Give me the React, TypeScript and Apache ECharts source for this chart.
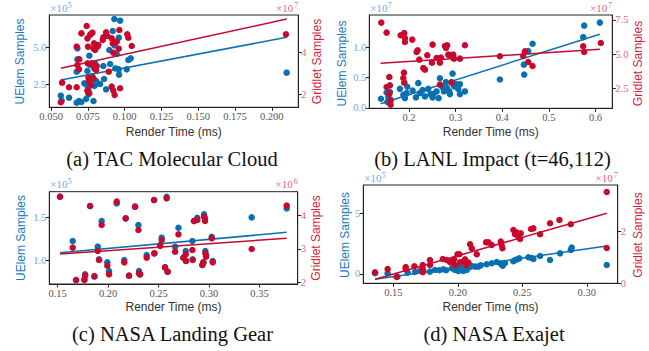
import React, { useEffect, useRef } from "react";
import * as echarts from "echarts";

// ---------- (a) TAC Molecular Cloud : UElem ×1e5, Gridlet ×1e7 ----------
const tacUElem = [[0.0566,1.705],[0.0572,1.365],[0.0622,1.569],[0.0674,1.228],[0.069,1.342],[0.0706,1.274],[0.0679,4.93],[0.0674,3.34],[0.0679,4.18],[0.0738,1.478],[0.0742,2.432],[0.0747,3.386],[0.0754,2.091],[0.076,4.43],[0.0765,3.794],[0.0769,2.772],[0.0778,3.045],[0.0788,1.342],[0.0794,2.364],[0.0806,2.704],[0.0817,2.545],[0.0833,2.5],[0.0799,3.908],[0.0855,3.726],[0.086,2.84],[0.0874,2.137],[0.0901,3.862],[0.0896,4.816],[0.0919,6.11],[0.093,6.93],[0.0932,5.134],[0.0937,3.567],[0.0946,4.544],[0.096,5.656],[0.0969,6.814],[0.096,3.499],[0.0962,3.136],[0.1014,3.499],[0.1025,4.135],[0.1041,4.248],[0.2101,3.272],[0.0726,2.545],[0.0754,1.796]];
const tacGridlet = [[0.0566,1.619],[0.0575,2.556],[0.0622,2.333],[0.0674,2.333],[0.0674,4.27],[0.0679,3.397],[0.069,3.19],[0.0692,3.667],[0.0706,4.905],[0.0742,5.254],[0.0747,4.667],[0.0751,4.27],[0.0749,3.476],[0.0754,2.794],[0.0758,2.603],[0.076,2.048],[0.0765,4.825],[0.0769,4.873],[0.0776,3.476],[0.0781,4.937],[0.0788,4.19],[0.0792,4.429],[0.0794,3.238],[0.0799,4.111],[0.0806,3.159],[0.081,3.349],[0.0815,4.27],[0.0821,4.349],[0.0851,4.587],[0.0855,4.714],[0.0874,4.952],[0.0883,4.778],[0.0892,3.079],[0.0912,4.667],[0.0919,4.429],[0.0923,3.984],[0.0912,2.365],[0.0923,2.175],[0.0932,1.968],[0.0946,4.508],[0.096,4.175],[0.0964,5.063],[0.0969,2.286],[0.1018,4.857],[0.1025,4.698],[0.1048,4.302],[0.0788,2.762],[0.0772,2.444],[0.2096,4.857],[0.0747,2.175]];
const tacUElemFit = [[0.0566,2.772],[0.2101,5.679]];
const tacGridletFit = [[0.0566,3.238],[0.2101,5.587]];
const tacXTicks = [0.05,0.075,0.1,0.125,0.15,0.175,0.2];
const tacLeftTicks = [2.5,5.0];
const tacRightTicks = [2,4];

// ---------- (b) LANL Impact : UElem ×1e7, Gridlet ×1e7 ----------
const lanlUElem = [[0.14,0.152],[0.1521,0.255],[0.1593,0.261],[0.1536,0.098],[0.1607,0.136],[0.1557,0.185],[0.1807,0.315],[0.1879,0.217],[0.1914,0.163],[0.195,0.245],[0.1964,0.348],[0.2079,0.288],[0.215,0.174],[0.22,0.408],[0.2236,0.245],[0.2293,0.293],[0.2343,0.19],[0.2414,0.315],[0.2464,0.228],[0.2507,0.174],[0.2521,0.228],[0.2593,0.272],[0.2636,0.163],[0.2664,0.489],[0.2721,0.342],[0.275,0.272],[0.2793,0.424],[0.2821,0.326],[0.2864,0.272],[0.2879,0.228],[0.2914,0.424],[0.2936,0.565],[0.2971,0.353],[0.3007,0.391],[0.3057,0.315],[0.3093,0.391],[0.32,0.272],[0.3093,0.228],[0.395,0.467],[0.4464,0.712],[0.4471,0.549],[0.465,1.054],[0.4557,0.935],[0.5736,1.163],[0.5757,1.353],[0.6093,1.402]];
const lanlGridlet = [[0.1407,7.306],[0.1521,6.578],[0.1579,3.35],[0.1593,2.743],[0.1521,2.621],[0.1579,2.136],[0.1607,1.65],[0.1607,1.335],[0.1821,6.383],[0.19,6.553],[0.1914,6.189],[0.1914,5.898],[0.19,2.937],[0.1893,3.665],[0.1879,3.277],[0.2071,6.068],[0.2164,5.17],[0.2186,5.291],[0.2221,4.612],[0.2307,4.005],[0.2343,3.883],[0.2393,4.927],[0.2493,4.393],[0.2507,5.704],[0.2593,4.733],[0.2664,4.393],[0.2686,4.757],[0.2771,5.607],[0.2793,5.461],[0.2821,5.655],[0.2843,4.976],[0.2879,4.927],[0.295,4.976],[0.2964,4.684],[0.3093,4.684],[0.32,5.655],[0.2664,2.791],[0.2914,2.937],[0.395,4.854],[0.4486,5.218],[0.445,4.879],[0.4557,4.442],[0.465,4.15],[0.5736,5.583],[0.5757,5.17],[0.6114,5.825]];
const lanlUElemFit = [[0.1393,0.071],[0.6093,1.212]];
const lanlGridletFit = [[0.1393,4.345],[0.6093,5.364]];
const lanlXTicks = [0.2,0.3,0.4,0.5,0.6];
const lanlLeftTicks = [0.0,0.5,1.0];
const lanlRightTicks = [2.5,5.0,7.5];

// ---------- (c) NASA Landing Gear : UElem ×1e5, Gridlet ×1e6 ----------
const lgTime = [0.1523,0.1649,0.1682,0.1772,0.1765,0.1821,0.1864,0.1897,0.191,0.1936,0.1992,0.2009,0.2085,0.2174,0.216,0.2207,0.2267,0.23,0.2306,0.2316,0.2382,0.2455,0.2458,0.2531,0.2515,0.2564,0.258,0.259,0.2664,0.2697,0.2769,0.2746,0.2772,0.2835,0.2838,0.2851,0.2884,0.2934,0.2944,0.2951,0.2961,0.2964,0.2971,0.3027,0.3037,0.3423,0.377];
const lgUElem = [1.741,1.224,0.768,0.835,0.776,1.632,0.807,1.158,1.01,1.457,0.975,0.874,1.663,1.488,1.002,0.819,1.625,1.41,0.874,0.835,1.06,1.702,1.08,1.263,1.177,0.916,1.741,0.866,1.158,1.379,1.107,1.029,0.99,1.224,1.01,1.457,1.496,0.944,0.975,1.535,1.488,1.107,1.06,1.274,0.99,1.5,1.605];
const lgGridlet = [4.562,3.04,2.075,2.204,2.075,4.284,2.194,2.94,2.672,3.716,2.502,2.244,4.413,3.915,2.602,2.204,4.264,3.567,2.274,2.244,2.741,4.463,2.871,3.269,3.09,2.453,4.512,2.323,2.92,3.438,2.841,2.741,2.642,2.97,2.672,3.836,3.866,2.522,2.602,3.965,3.836,2.871,2.771,3.318,2.602,3.0,4.294];
const lgUElemFit = [[0.1523,1.0875],[0.377,1.325]];
const lgGridletFit = [[0.1523,2.851],[0.377,3.318]];
const lgXTicks = [0.15,0.2,0.25,0.3,0.35];
const lgLeftTicks = [1.0,1.5];
const lgRightTicks = [2,3,4];

// ---------- (d) NASA Exajet : UElem ×1e5, Gridlet ×1e7 ----------
const exaUElem = [[0.1358,0.055],[0.1456,0.055],[0.1531,-0.22],[0.1611,0.11],[0.1668,0.165],[0.1707,0.275],[0.1733,0.247],[0.1784,0.192],[0.1823,0.33],[0.1857,0.302],[0.1909,0.302],[0.1953,0.467],[0.1978,0.33],[0.2004,0.247],[0.2017,0.577],[0.2043,0.247],[0.2069,0.467],[0.2095,0.577],[0.2108,0.659],[0.2134,0.604],[0.2159,0.604],[0.2178,0.714],[0.2224,0.797],[0.2263,0.879],[0.2302,0.989],[0.2333,0.852],[0.2348,0.687],[0.2366,0.907],[0.2431,1.044],[0.2444,1.154],[0.2462,1.209],[0.2477,1.291],[0.2547,1.374],[0.2573,1.319],[0.2586,1.236],[0.2638,1.484],[0.2715,1.154],[0.2793,1.703],[0.2876,1.978],[0.2883,2.17],[0.3155,0.742],[0.1965,0.549],[0.1888,0.385],[0.2069,0.33]];
const exaGridlet = [[0.1358,0.426],[0.1456,0.555],[0.1526,0.245],[0.1596,0.632],[0.1596,0.555],[0.1663,0.658],[0.1728,0.71],[0.1728,0.555],[0.1728,0.426],[0.1784,0.903],[0.1784,0.71],[0.1883,0.942],[0.1914,0.903],[0.194,0.813],[0.196,0.877],[0.1978,0.71],[0.1997,1.123],[0.2012,1.123],[0.2017,0.813],[0.2043,0.839],[0.2064,0.71],[0.2082,0.8],[0.2095,1.51],[0.2108,1.355],[0.2147,1.123],[0.2219,1.587],[0.2237,1.587],[0.2263,1.484],[0.2333,1.613],[0.234,1.484],[0.2346,1.355],[0.2431,2.065],[0.2444,1.897],[0.2457,1.961],[0.247,1.806],[0.2483,1.716],[0.2488,1.935],[0.2568,2.103],[0.2586,2.129],[0.2638,1.897],[0.2715,2.323],[0.2788,2.452],[0.2876,2.284],[0.3155,3.535],[0.3155,1.368],[0.2056,0.929],[0.1971,0.929]];
const exaUElemFit = [[0.1358,-0.44],[0.3155,2.308]];
const exaGridletFit = [[0.1358,0.155],[0.3155,2.71]];
const exaXTicks = [0.15,0.2,0.25,0.3];
const exaLeftTicks = [0,5];
const exaRightTicks = [0,2];

const captions = ["(a) TAC Molecular Cloud", "(b) LANL Impact (t=46,112)", "(c) NASA Landing Gear", "(d) NASA Exajet"];
const leftExp = ["5", "7", "5", "5"];
const rightExp = ["7", "7", "6", "7"];

const BLUE = "#0a6fb0";
const RED = "#c8082d";
const BLUE_T = "#1a78be";
const RED_T = "#d21e3c";
const BLUE_L = "#72a9d6";
const RED_L = "#e2667e";
const SERIF = "'Liberation Serif', 'Times New Roman', serif";
const SANS = "'Liberation Sans', Arial, sans-serif";

const panels = [
  { box: [49.3, 15, 298.3, 107.3], xr: [0.0488, 0.218], lr: [0.913, 7.2], rr: [1.38, 5.78],
    xt: tacXTicks, lt: tacLeftTicks, rt: tacRightTicks, xd: 3, ld: 1, rd: 0,
    blue: tacUElem, red: tacGridlet, bf: tacUElemFit, rf: tacGridletFit,
    ut: [20, 61.5], gt: [317, 61.5], xtY: 131.7, cap: [172, 158.5] },
  { box: [369.3, 15, 612.3, 108.3], xr: [0.115, 0.636], lr: [-0.005, 1.527], rr: [1.07, 7.86],
    xt: lanlXTicks, lt: lanlLeftTicks, rt: lanlRightTicks, xd: 1, ld: 1, rd: 1,
    blue: lanlUElem, red: lanlGridlet, bf: lanlUElemFit, rf: lanlGridletFit,
    ut: [341.7, 63.5], gt: [638.3, 63.5], xtY: 131.7, cap: [492.5, 158.5] },
  { box: [49.3, 191.7, 297.7, 284], xr: [0.1417, 0.3879], lr: [0.722, 1.8], rr: [1.955, 4.71],
    xt: lgXTicks, lt: lgLeftTicks, rt: lgRightTicks, xd: 2, ld: 1, rd: 0,
    blue: lgTime.map((t, i) => [t, lgUElem[i]]), red: lgTime.map((t, i) => [t, lgGridlet[i]]),
    bf: lgUElemFit, rf: lgGridletFit,
    ut: [20.7, 238], gt: [316, 238], xtY: 306.7, cap: [172.5, 333.5] },
  { box: [363.3, 185, 617.7, 283.3], xr: [0.1267, 0.324], lr: [-0.769, 7.335], rr: [0, 3.806],
    xt: exaXTicks, lt: exaLeftTicks, rt: exaRightTicks, xd: 2, ld: 0, rd: 0,
    blue: exaUElem, red: exaGridlet, bf: exaUElemFit, rf: exaGridletFit,
    ut: [345, 235], gt: [638.3, 235], xtY: 306.7, cap: [494, 333.5] },
];

function buildOption() {
  const grid: any[] = [];
  const xAxis: any[] = [];
  const yAxis: any[] = [];
  const series: any[] = [];
  const graphic: any[] = [];
  panels.forEach((p, i) => {
    const [l, t, r, b] = p.box;
    grid.push({ left: l, top: t, width: r - l, height: b - t, show: true, borderColor: "#222", borderWidth: 1, backgroundColor: "transparent" });
    xAxis.push({
      type: "value", gridIndex: i, min: p.xr[0], max: p.xr[1],
      axisLine: { show: true, onZero: false, lineStyle: { color: "#222" } },
      axisTick: { show: true, customValues: p.xt, length: 3.5, lineStyle: { color: "#222" } },
      axisLabel: { customValues: p.xt, formatter: (v: number) => v.toFixed(p.xd), color: "#555", fontFamily: SERIF, fontSize: 10.5, margin: 4 },
      splitLine: { show: false },
    });
    yAxis.push({
      type: "value", gridIndex: i, position: "left", min: p.lr[0], max: p.lr[1],
      axisLine: { show: true, onZero: false, lineStyle: { color: "#222" } },
      axisTick: { show: true, customValues: p.lt, length: 3.5, lineStyle: { color: "#222" } },
      axisLabel: { customValues: p.lt, formatter: (v: number) => v.toFixed(p.ld), color: BLUE_L, fontFamily: SERIF, fontSize: 10.5, margin: 3 },
      splitLine: { show: false },
    });
    yAxis.push({
      type: "value", gridIndex: i, position: "right", min: p.rr[0], max: p.rr[1],
      axisLine: { show: true, onZero: false, lineStyle: { color: "#222" } },
      axisTick: { show: true, customValues: p.rt, length: 3.5, lineStyle: { color: "#222" } },
      axisLabel: { customValues: p.rt, formatter: (v: number) => v.toFixed(p.rd), color: RED_L, fontFamily: SERIF, fontSize: 10.5, margin: 3 },
      splitLine: { show: false },
    });
    series.push({ type: "scatter", xAxisIndex: i, yAxisIndex: 2 * i, data: p.blue, symbolSize: 6.5, itemStyle: { color: BLUE, opacity: 1 }, z: 2 });
    series.push({ type: "line", xAxisIndex: i, yAxisIndex: 2 * i, data: p.bf, showSymbol: false, symbol: "none", lineStyle: { color: BLUE, width: 1.5 }, z: 3 });
    series.push({ type: "scatter", xAxisIndex: i, yAxisIndex: 2 * i + 1, data: p.red, symbolSize: 6.5, itemStyle: { color: RED, opacity: 1 }, z: 4 });
    series.push({ type: "line", xAxisIndex: i, yAxisIndex: 2 * i + 1, data: p.rf, showSymbol: false, symbol: "none", lineStyle: { color: RED, width: 1.5 }, z: 5 });

    // offset texts
    graphic.push({ type: "text", x: l + 1, y: t - 2, style: { text: "×10", fill: BLUE_L, font: `11px ${SERIF}`, textAlign: "left", textVerticalAlign: "bottom" } });
    graphic.push({ type: "text", x: l + 18.5, y: t - 6, style: { text: leftExp[i], fill: BLUE_L, font: `8px ${SERIF}`, textAlign: "left", textVerticalAlign: "bottom" } });
    graphic.push({ type: "text", x: r - 5, y: t - 2, style: { text: "×10", fill: RED_L, font: `11px ${SERIF}`, textAlign: "right", textVerticalAlign: "bottom" } });
    graphic.push({ type: "text", x: r, y: t - 6, style: { text: rightExp[i], fill: RED_L, font: `8px ${SERIF}`, textAlign: "right", textVerticalAlign: "bottom" } });
    // axis titles
    graphic.push({ type: "text", x: p.ut[0], y: p.ut[1], rotation: Math.PI / 2, style: { text: "UElem Samples", fill: BLUE_T, font: `12px ${SANS}`, textAlign: "center", textVerticalAlign: "middle" } });
    graphic.push({ type: "text", x: p.gt[0], y: p.gt[1], rotation: Math.PI / 2, style: { text: "Gridlet Samples", fill: RED_T, font: `12px ${SANS}`, textAlign: "center", textVerticalAlign: "middle" } });
    graphic.push({ type: "text", x: (l + r) / 2, y: p.xtY, style: { text: "Render Time (ms)", fill: "#333", font: `12px ${SANS}`, textAlign: "center", textVerticalAlign: "middle" } });
    graphic.push({ type: "text", x: p.cap[0], y: p.cap[1], style: { text: captions[i], fill: "#111", font: `20.5px ${SERIF}`, textAlign: "center", textVerticalAlign: "middle" } });
  });
  return { animation: false, backgroundColor: "#fff", grid, xAxis, yAxis, series, graphic };
}

export default function App() {
  const ref = useRef<HTMLDivElement>(null);
  useEffect(() => {
    if (!ref.current) return;
    const chart = echarts.init(ref.current, undefined, { renderer: "svg" });
    chart.setOption(buildOption() as any);
    return () => chart.dispose();
  }, []);
  return <div ref={ref} style={{ position: "fixed", left: 0, top: 0, width: 649, height: 351, background: "#fff" }} />;
}
